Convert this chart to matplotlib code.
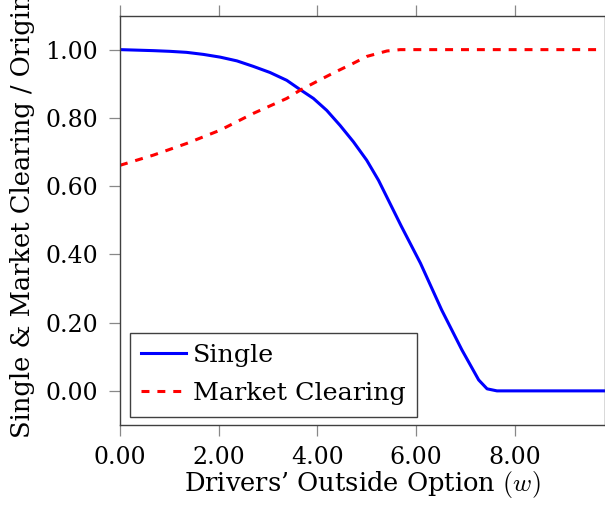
import matplotlib
matplotlib.use("Agg")
import matplotlib.pyplot as plt

plt.rcParams['font.family'] = ['DejaVu Serif']
plt.rcParams['mathtext.fontset'] = 'cm'

# welfare ratios against the drivers' outside option w
w_single = [0.0, 0.68, 1.01, 1.35, 1.69, 2.03, 2.37, 2.70, 3.04, 3.38, 3.65,
            3.92, 4.19, 4.46, 4.73, 5.00, 5.24, 5.70, 6.09, 6.52, 6.93, 7.27,
            7.44, 7.64, 9.8]
single = [1.0, 0.997, 0.995, 0.992, 0.986, 0.978, 0.967, 0.951, 0.933, 0.910,
          0.883, 0.857, 0.822, 0.778, 0.730, 0.676, 0.617, 0.483, 0.374, 0.237,
          0.120, 0.032, 0.006, 0.0, 0.0]

w_clearing = [0.0, 0.68, 1.35, 2.03, 2.70, 3.38, 3.65, 4.06, 4.33, 4.73, 5.0,
              5.41, 5.68, 9.8]
clearing = [0.661, 0.691, 0.725, 0.764, 0.813, 0.857, 0.881, 0.912, 0.932,
            0.960, 0.980, 0.996, 1.0, 1.0]

xticks = [0, 2, 4, 6, 8]
yticks = [0.0, 0.2, 0.4, 0.6, 0.8, 1.0]

fig = plt.figure(figsize=(6.05, 5.08), dpi=100)
ax = fig.add_axes([120 / 605, 83 / 508, 484.5 / 605, 409.5 / 508])

ax.plot(w_single, single, color='#0000ff', lw=2.2, label='Single')
ax.plot(w_clearing, clearing, color='#ff0000', lw=2.2, dashes=(2.6, 2.6),
        label='Market Clearing')

ax.set_xlim(0, 9.82)
ax.set_ylim(-0.1, 1.1)
ax.set_xticks(xticks)
ax.set_yticks(yticks)
ax.set_xticklabels(['%.2f' % v for v in xticks])
ax.set_yticklabels(['%.2f' % v for v in yticks])

for s in ax.spines.values():
    s.set_color('#404040')
    s.set_linewidth(1.0)
ax.tick_params(direction='out', length=8, width=0.9, color='#888888',
               labelsize=17, top=True, right=True)
ax.tick_params(axis='y', pad=8)
ax.tick_params(axis='x', pad=7)

ax.set_xlabel('Drivers\u2019 Outside Option $(w)$', fontsize=18.5, labelpad=0)
ax.set_ylabel('Single & Market Clearing / Original Welfare', fontsize=18.5,
              loc='bottom')
ax.yaxis.set_label_coords(-0.176, -0.032)

leg = ax.legend(loc='lower left', bbox_to_anchor=(0.02, 0.02), fontsize=18.3,
                fancybox=False, framealpha=1, edgecolor='#404040',
                handlelength=1.75, handletextpad=0.3, borderpad=0.45,
                labelspacing=0.6, borderaxespad=0.0)
leg.get_frame().set_linewidth(1.0)

fig.savefig('out.png', dpi=100)
